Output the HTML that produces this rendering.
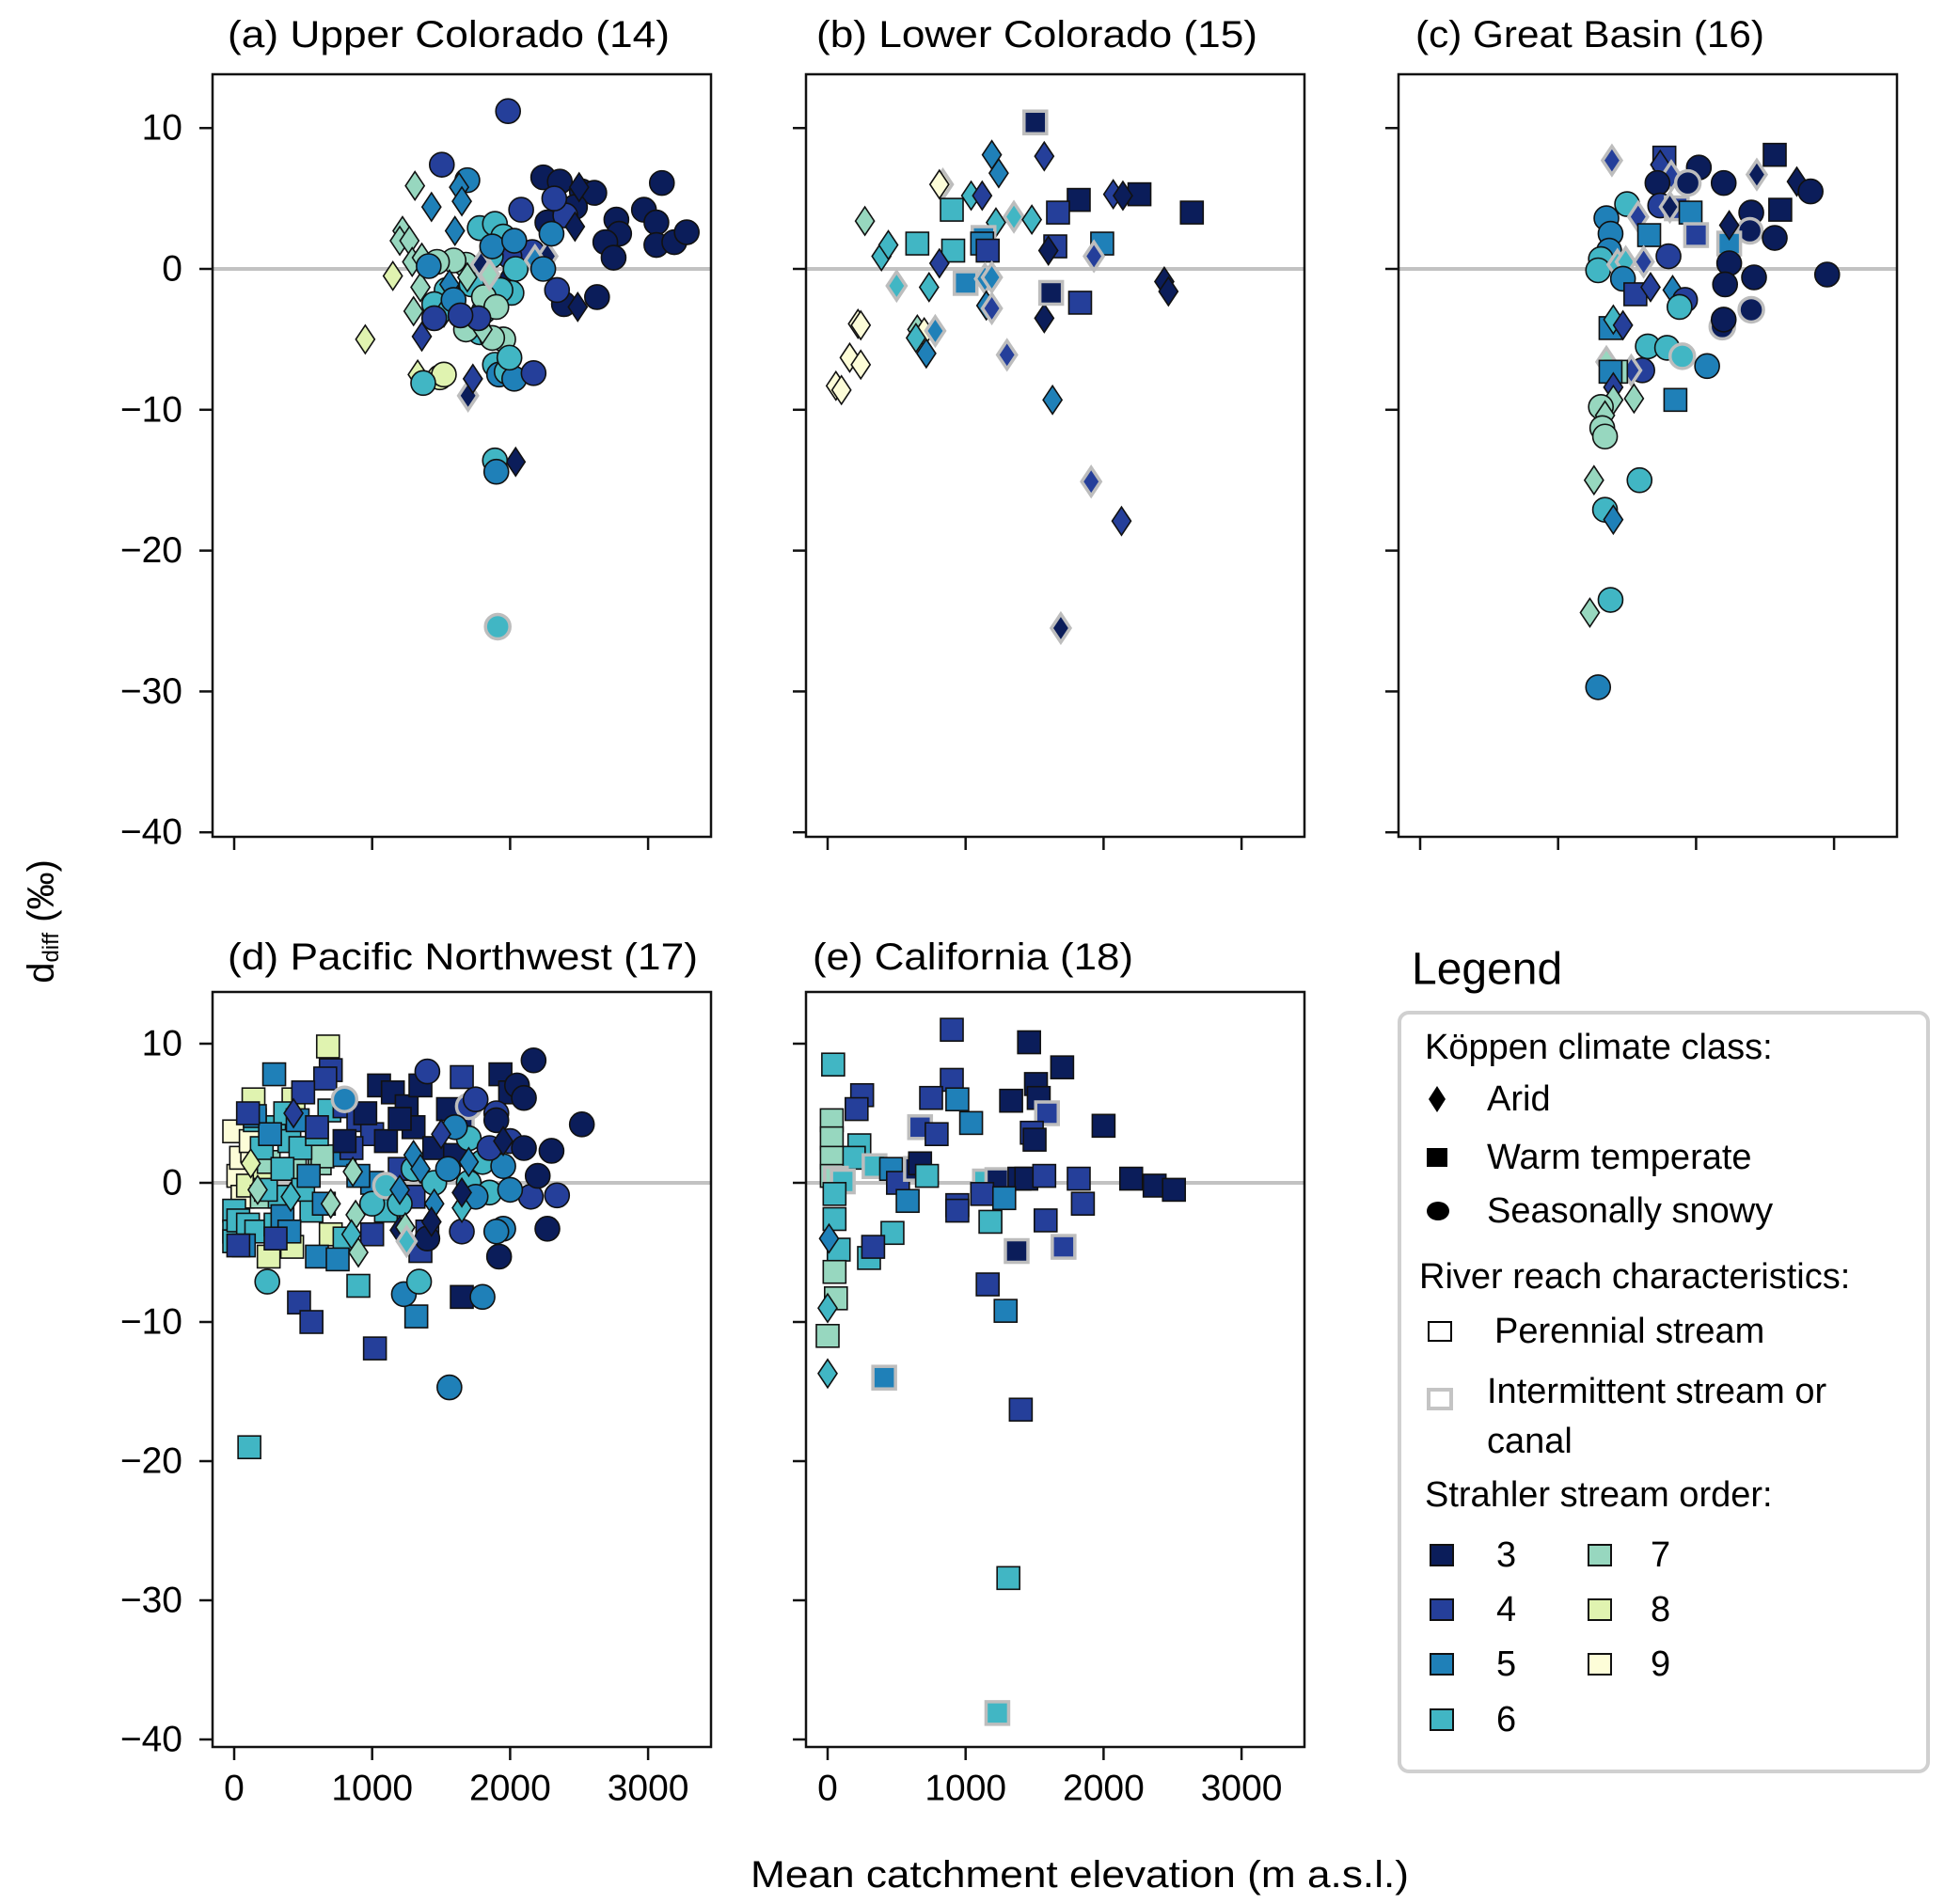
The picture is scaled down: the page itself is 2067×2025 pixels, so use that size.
<!DOCTYPE html>
<html><head><meta charset="utf-8"><style>
html,body{margin:0;padding:0;background:#fff;}
svg{display:block;font-family:"Liberation Sans",sans-serif;}
</style></head><body>
<svg id="fig" width="2067" height="2025" viewBox="0 0 2067 2025" xmlns="http://www.w3.org/2000/svg">
<g id="panels"></g>
<text transform="translate(44,980) rotate(-90)" text-anchor="middle" font-size="40" dominant-baseline="central">d<tspan font-size="24" dy="10">diff</tspan><tspan dy="-10"> (‰)</tspan></text>
<text x="1148" y="1994" text-anchor="middle" font-size="40" dominant-baseline="central" textLength="700" lengthAdjust="spacingAndGlyphs">Mean catchment elevation (m a.s.l.)</text>
<g transform="translate(-9,0)">
<text x="1510" y="1031" font-size="48" dominant-baseline="central">Legend</text>
<rect x="1497" y="1077" width="562" height="807" rx="10" fill="#fff" stroke="#d0d0d0" stroke-width="4"/>
<text x="1524" y="1114" font-size="38" dominant-baseline="central">Köppen climate class:</text>
<polygon points="1537,1155 1546,1169 1537,1183 1528,1169" fill="#000"/>
<text x="1590" y="1169" font-size="38" dominant-baseline="central">Arid</text>
<rect x="1526" y="1221" width="22" height="20" fill="#000"/>
<text x="1590" y="1231" font-size="38" dominant-baseline="central">Warm temperate</text>
<ellipse cx="1538" cy="1288" rx="12" ry="10" fill="#000"/>
<text x="1590" y="1288" font-size="38" dominant-baseline="central">Seasonally snowy</text>
<text x="1518" y="1358" font-size="38" dominant-baseline="central">River reach characteristics:</text>
<rect x="1528" y="1406" width="24" height="20" fill="#fff" stroke="#000" stroke-width="2"/>
<text x="1598" y="1416" font-size="38" dominant-baseline="central">Perennial stream</text>
<rect x="1528" y="1478" width="24" height="20" fill="#fff" stroke="#c4c4c4" stroke-width="4"/>
<text x="1590" y="1480" font-size="38" dominant-baseline="central">Intermittent stream or</text>
<text x="1590" y="1533" font-size="38" dominant-baseline="central">canal</text>
<text x="1524" y="1590" font-size="38" dominant-baseline="central">Strahler stream order:</text>
<g id="legend-orders"></g>
</g>
</svg>
<script>
const NS='http://www.w3.org/2000/svg';
const orderKeys=[3,4,5,6,7,8,9];
const orderColors=['#0b1d5a','#253f9a','#1f80b8','#41b6c4','#97d7bf','#e0f3b0','#fdfdd8'];
const yTicks=[10,0,-10,-20,-30,-40];
const yTickLabels=['10','0','\u221210','\u221220','\u221230','\u221240'];
const xTicks=[0,1000,2000,3000];
const xTickLabels=['0','1000','2000','3000'];

// Panel (a) Upper Colorado
const aElev=[1985,1505,2240,2360,2520,2610,2470,2270,2770,2790,2970,3100,3060,3060,3190,3280,2690,2750,2630,2390,2490,2400,2080,2320,2160,2340,1995,2500,2470,1995,2040,1695,1690,1630,1430,1780,1890,1950,1860,2040,2010,1930,1720,1540,1450,1810,1780,1890,1920,1975,2030,2170,1950,1995,1890,1900,1910,1680,1590,1470,1810,1900,1680,1870,1310,1220,1200,1270,1290,1360,1350,1300,1690,1800,950,1150,1330,1490,1520,1370,1360,1730,1650,1600,1560,1520,1790,1850,2270,2180,1410,1870,2030,2300,2240,1590,1770,1640,1450];
const aVal=[11.2,7.4,6.5,6.2,5.5,5.4,4.4,3.3,3.5,2.5,4.2,6.1,3.3,1.7,1.9,2.6,1.9,0.8,-2,-2.5,-2.7,3.8,4.2,5,1.2,-1.5,0.9,5.8,3,-0.5,-13.7,-9,6.3,5.8,4.4,2.9,3.2,2.3,0.9,0,-1.7,-1.5,-1.1,-1.5,-2.5,-3,-4.5,-6.8,-7.5,-7.3,-7.8,-7.4,-5,-6.3,-13.6,-14.4,-25.4,0.3,0.6,0.5,-2,-2.7,-4.3,-4.9,5.9,2.7,2,2,0.5,0.8,-1.3,-3,-0.6,-4.3,-5,-0.5,-7.5,-7.7,-7.5,-8.1,-4.8,-7.8,4.8,2.7,-1.1,-3.1,0.3,-0.4,0.9,0.6,0.2,1.6,2,2.5,0,-2.2,-3.5,-3.3,-3.5];
const aOrder=[4,4,3,3,3,3,3,3,3,3,3,3,3,3,3,3,3,3,3,3,3,4,4,4,4,4,4,3,3,3,3,3,5,5,5,6,6,6,6,6,6,6,6,6,6,6,6,6,5,6,5,4,7,6,6,5,6,7,7,7,7,7,7,7,7,7,7,7,7,7,7,7,7,7,8,8,8,8,8,6,4,4,5,5,5,6,3,7,3,5,5,5,5,5,5,5,4,4,4];
const aShape='ccccccccccccccccccccdccccccdddddcddcccccccccccccccccccccccccccccdddddddddddddcccddddddddddcccccccccc'.split('');
const aInter=[0,0,0,0,0,0,0,0,0,0,0,0,0,0,0,0,0,0,0,0,0,0,0,0,0,0,0,0,0,0,0,1,0,0,0,0,0,0,0,0,0,0,0,0,0,0,0,0,0,0,0,0,0,0,0,0,1,0,0,0,0,0,0,0,0,0,0,0,0,0,0,0,0,0,0,0,0,0,0,0,0,0,0,0,0,0,1,1,1,1,0,0,0,0,0,0,0,0,0];

// Panel (b) Lower Colorado
const bElev=[1505,1570,1190,1240,835,810,1040,1120,900,270,650,910,390,440,1220,1350,1480,1130,1120,1160,1820,1670,2260,2640,2070,2140,1650,1600,1990,1930,2440,2470,1570,1830,1620,500,735,810,1000,1140,1190,650,700,640,715,780,1150,1190,220,240,160,240,60,100,1300,1630,1910,2130,1690];
const bVal=[10.4,8,8.1,6.8,6,6,5.2,5.2,4.2,3.4,1.8,1.3,0.9,1.7,3.3,3.7,3.5,2.2,1.8,1.3,4.9,4,5.3,4,5.3,5.2,1.6,1.3,1.8,0.9,-0.9,-1.6,-3.5,-2.4,-1.7,-1.2,-1.3,0.4,-1,-0.7,-0.6,-4.3,-4.5,-4.9,-6,-4.4,-2.6,-2.8,-3.9,-4,-6.3,-6.8,-8.3,-8.6,-6.1,-9.3,-15.1,-17.9,-25.5];
const bOrder=[3,4,5,5,9,9,6,4,6,7,6,6,6,6,6,6,6,5,5,4,3,4,3,3,4,3,4,3,5,4,3,3,3,4,3,6,6,4,5,5,5,7,9,6,5,5,5,4,9,9,9,9,9,9,4,5,4,4,3];
const bShape='sdddddddsdssdddddsssssssddsdsddddssdddsddddddddddddddddddddd'.split('');
const bInter=[1,0,0,0,1,0,0,0,0,0,0,0,0,0,0,1,0,1,0,0,0,0,0,0,0,0,0,0,0,1,0,0,0,0,1,1,0,0,1,1,1,0,0,0,0,1,0,1,0,0,0,0,0,0,1,0,1,0,1];

// Panel (c) Great Basin
const cElev=[1390,1770,1740,1820,2020,1720,2200,1940,2570,2440,2730,2830,1740,1860,1810,2610,2400,1500,1580,1350,1380,1660,1960,2000,2390,2570,2240,2240,1370,1320,1310,1290,1430,1490,1620,1800,2240,2420,2950,2210,1470,1560,1670,1830,1920,1880,2400,1380,1400,1470,2190,2200,1650,1790,1900,2080,1610,1530,1350,1420,1380,1400,1400,1550,1310,1340,1320,1340,1850,1260,1590,1340,1400,1380,1230,1290];
const cVal=[7.7,7.9,7.4,6.6,7.2,6.1,6.1,6.1,8.1,6.7,6.2,5.5,4.5,4.3,4.4,4.2,4,4.6,3.7,3.6,2.5,2.4,4,2.4,2.7,2.2,1.8,3.1,1.3,0.4,0.7,-0.1,0.3,0.5,0.5,0.9,0.4,-0.6,-0.4,-1.1,-0.7,-1.8,-1.3,-1.5,-2.2,-2.7,-2.9,-4.2,-3.6,-4,-4.1,-3.6,-5.5,-5.6,-6.2,-6.9,-7.2,-7.2,-6.6,-7.3,-7.3,-8.4,-9.3,-9.2,-9.8,-10.4,-11.3,-11.9,-9.3,-15,-15,-17.1,-17.8,-23.5,-24.4,-29.7];
const cOrder=[4,4,4,4,3,3,3,3,3,3,3,3,4,4,3,3,3,6,4,5,5,5,5,4,3,3,5,3,5,6,6,6,6,6,4,4,3,3,3,3,5,4,4,5,4,6,3,5,6,4,3,3,6,6,6,5,4,4,7,7,5,4,7,7,7,7,7,7,5,7,6,6,5,6,7,5];
const cShape='dsddccccsddccsdsccdccsssccsdccccdddccccccsddcccsddcccccccddssdddcdccsdccdcdc'.split('');
const cInter=[1,0,0,1,0,0,0,1,0,1,0,0,0,1,1,0,0,0,1,0,0,0,0,1,1,0,1,0,0,0,0,0,1,1,1,0,0,0,0,0,0,0,0,0,0,0,1,0,0,0,1,0,0,0,1,0,0,1,1,0,0,0,0,0,0,0,0,0,0,0,0,0,0,0,0,0];

// Panel (d) Pacific Northwest
const dElev=[0,30,50,60,130,120,100,140,430,250,420,700,220,250,200,620,640,440,0,0,0,30,100,160,200,290,330,400,480,560,690,600,230,350,500,300,900,110,1100,800,150,370,290,70,150,260,350,460,600,750,1000,1320,540,800,650,400,900,700,660,470,560,1020,500,30,100,800,900,1000,1300,1350,1400,850,1000,1200,600,300,1050,1150,1250,1350,1650,1650,950,1100,1300,1450,800,1550,1600,1200,680,1650,1930,2000,1700,1900,2000,2100,2300,2520,2150,2340,2270,1920,1950,1800,1560,1230,1340,240,1650,1000,1100,1300,1450,1700,1800,1850,1950,2000,1700,1750,1550,800,1200,1900,1400,1850,2200,1600,2170,2050,2100,1400,1750,1900,1950,1500,1300,1350,1200,1450,1650,1700,1650,860,880,900,850,700,410,430,120,170,1200,1240,1430,1250];
const dVal=[3.7,0.5,1.8,-1,2.3,3,-0.2,6,6,-5.3,-4.6,-3.7,0.3,1.5,-1,1.4,1.9,1,-2,-3.5,-4.2,-2.7,-3,-3.5,2.5,4,-1,3,2.5,-2,5.2,3.5,-0.5,1,-0.5,-3,-7.4,-19,-2,-4,4.5,5,7.8,-4.5,4.8,3.5,-2.4,4.5,-5.3,-5.5,0,-9.6,0.5,2,-1.5,-3.5,0.5,8.1,7.5,-8.6,-10,-11.9,6.5,-4.5,5,5.5,4.5,3.5,-1,-4.9,-3.5,2.5,-3.7,1,4,-4,7,6.5,5.5,7,4.6,-8.2,5,3,4,2.5,3,5.3,2,4.6,9.8,7.6,7.8,6.5,5.5,5,3,2.5,2.3,4.2,-1,-0.9,-3.3,-5.3,-3.3,-8.2,-14.7,-8,-7.1,-7.1,-3.5,-1.5,-0.2,1,0,0,1.5,-0.7,1.2,-0.5,3.2,-1,1,6,-1.5,-3.5,-4,2.5,0.5,4,8.8,7,6.1,8,6,4.5,3,3.5,2,1,-0.5,-1.5,-1.8,1.5,-0.7,0.8,-2.3,-5,-3.7,-1.5,-1,5,1.4,-0.5,-3.4,-3.2,-2.8,-4.2];
const dOrder=[9,9,9,9,9,9,8,8,8,8,8,8,8,7,7,7,7,7,6,6,6,6,6,6,6,6,6,6,6,6,6,6,6,6,6,6,6,6,6,6,6,6,5,5,5,5,5,5,5,5,5,5,5,5,5,5,5,4,4,4,4,4,4,4,4,4,4,4,4,4,4,4,4,4,4,4,3,3,3,3,3,3,3,3,3,3,3,3,3,3,8,4,3,3,4,4,4,3,3,3,4,4,3,3,5,5,5,5,6,6,4,6,6,6,6,6,6,6,5,5,6,5,5,5,6,5,3,4,3,5,3,3,3,4,4,3,3,4,5,5,5,5,6,5,3,7,7,7,6,7,6,4,8,7,3,7,3,6];
const dShape=('ssssssssssssssssssssssssssssssssssssssssssssssssssssssssssssssssssssssssssssssssssssssssssssss'+'cccccccccccccccccccccccccccccccccccccccccc'+'dddddddddddddddddddddddddddd').split('');
const dInter=[0,0,0,0,0,0,0,0,0,0,0,0,0,0,0,0,0,0,0,0,0,0,0,0,0,0,0,0,0,0,0,0,0,0,0,0,0,0,0,0,0,0,0,0,0,0,0,0,0,0,0,0,0,0,0,0,0,0,0,0,0,0,0,0,0,0,0,0,0,0,0,0,0,0,0,0,0,0,0,0,1,0,0,0,0,0,0,0,0,0,0,0,0,0,1,0,0,0,0,0,0,0,0,0,0,0,0,0,0,0,0,0,1,0,0,0,0,0,0,0,0,0,0,1,0,0,0,0,0,0,0,0,0,0,0,0,0,0,0,0,0,0,0,0,0,0,0,0,0,0,0,0,0,0,0,0,0,1,1,1,0];

// Panel (e) California
const eElev=[40,900,1460,1700,1510,1530,1590,2000,1330,900,750,940,1040,250,210,670,790,1480,1500,30,30,230,190,30,30,60,110,340,460,510,640,670,720,1140,1230,1390,1440,1570,2200,2370,2510,940,1120,1280,1180,940,1580,1850,1820,1370,1710,1160,1290,580,470,50,50,80,50,60,0,300,330,10,0,0,410,1400,1310,1230];
const eVal=[8.5,11,10.1,8.3,7.1,6.1,5,4.1,5.9,7.4,6.1,6,4.3,6.3,5.3,4,3.5,3.6,3.1,4.5,3.2,2.7,1.8,1.8,0.5,0.3,0.1,1.2,1,0,1,1.4,0.5,0.1,0.2,0.3,0.3,0.5,0.3,-0.2,-0.5,-1.6,-0.8,-1.1,-2.8,-2,-2.7,-1.5,0.3,-4.9,-4.6,-7.3,-9.2,-1.3,-3.6,-0.8,-2.6,-4.8,-6.4,-8.3,-11,-5.4,-4.6,-4,-9,-13.7,-14,-16.3,-28.4,-38.1];
const eOrder=[6,4,3,3,3,3,4,3,3,4,4,5,5,4,4,4,4,4,3,7,7,6,6,7,7,7,6,6,5,4,3,3,6,6,3,3,3,4,3,3,3,4,4,5,6,4,4,4,4,3,4,4,5,5,6,6,6,6,7,7,7,6,4,5,6,6,5,4,6,6];
const eShape='sssssssssssssssssssssssssssssssssssssssssssssssssssssssssssssssdddssss'.split('');
const eInter=[0,0,0,0,0,0,1,0,0,0,0,0,0,0,0,1,0,0,0,0,0,0,0,0,0,1,1,1,0,0,1,0,0,1,1,0,0,0,0,0,0,0,0,0,0,0,0,0,0,1,1,0,0,0,0,0,0,0,0,0,0,0,0,0,0,0,1,0,0,1];

const panels=[
 {key:'a',title:'(a) Upper Colorado (14)',tx:242,ty:37,tw:470,left:226,top:79,bottom:890,y0:286,k:14.98,ylab:true,xlab:false,elev:aElev,val:aVal,ord:aOrder,shp:aShape,intr:aInter},
 {key:'b',title:'(b) Lower Colorado (15)',tx:868,ty:37,tw:469,left:857,top:79,bottom:890,y0:286,k:14.98,ylab:false,xlab:false,elev:bElev,val:bVal,ord:bOrder,shp:bShape,intr:bInter},
 {key:'c',title:'(c) Great Basin (16)',tx:1505,ty:37,tw:371,left:1487,top:79,bottom:890,y0:286,k:14.98,ylab:false,xlab:false,elev:cElev,val:cVal,ord:cOrder,shp:cShape,intr:cInter},
 {key:'d',title:'(d) Pacific Northwest (17)',tx:242,ty:1018,tw:500,left:226,top:1055,bottom:1858,y0:1258,k:14.8,ylab:true,xlab:true,elev:dElev,val:dVal,ord:dOrder,shp:dShape,intr:dInter},
 {key:'e',title:'(e) California (18)',tx:864,ty:1018,tw:341,left:857,top:1055,bottom:1858,y0:1258,k:14.8,ylab:false,xlab:true,elev:eElev,val:eVal,ord:eOrder,shp:eShape,intr:eInter}
];
const PW=530, XK=0.1467, XOFF=23;
function mk(tag,attrs,parent){const e=document.createElementNS(NS,tag);for(const k in attrs)e.setAttribute(k,attrs[k]);parent.appendChild(e);return e;}
function colorOf(o){return orderColors[orderKeys.indexOf(o)];}
const root=document.getElementById('panels');
panels.forEach(p=>{
  const xs=v=>p.left+XOFF+v*XK;
  const ys=v=>p.y0-v*p.k;
  const g=mk('g',{},root);
  
  
  const t=mk('text',{x:p.tx,y:p.ty,'font-size':40,'dominant-baseline':'central',textLength:p.tw,lengthAdjust:'spacingAndGlyphs'},g);
  t.textContent=p.title;
  
  
  const cp=mk('clipPath',{id:'clip'+p.key},g);
  mk('rect',{x:p.left,y:p.top,width:PW,height:p.bottom-p.top},cp);
  const zl=mk('line',{x1:p.left,x2:p.left+PW,y1:ys(0),y2:ys(0),stroke:'#c2c2c2','stroke-width':4},g);
  
  
  const pts=mk('g',{'clip-path':'url(#clip'+p.key+')'},g);
  
  
  for(let i=0;i<p.elev.length;i++){
    const cx=xs(p.elev[i]), cy=ys(p.val[i]);
    const fill=colorOf(p.ord[i]);
    const inter=p.intr[i]===1;
    const st=inter?'#bdbdbd':'#111';
    const sw=inter?3.5:1.6;
    let m;
    if(p.shp[i]==='c'){m=mk('circle',{cx:cx,cy:cy,r:13,fill:fill,stroke:st,'stroke-width':sw},pts);}
    else if(p.shp[i]==='s'){m=mk('rect',{x:cx-12,y:cy-12,width:24,height:24,fill:fill,stroke:st,'stroke-width':sw},pts);}
    else {m=mk('polygon',{points:`${cx},${cy-15} ${cx+10},${cy} ${cx},${cy+15} ${cx-10},${cy}`,fill:fill,stroke:st,'stroke-width':sw},pts);}
    
    
  }
  const fr=mk('rect',{x:p.left,y:p.top,width:PW,height:p.bottom-p.top,fill:'none',stroke:'#111','stroke-width':2.5},g);
  
  
  yTicks.forEach((v,j)=>{
    const tk=mk('line',{x1:p.left-14,x2:p.left,y1:ys(v),y2:ys(v),stroke:'#111','stroke-width':2.5},g);
    
    
    if(p.ylab){
      const tl=mk('text',{x:p.left-32,y:ys(v),'font-size':39,'text-anchor':'end','dominant-baseline':'central'},g);
      tl.textContent=yTickLabels[j];
      
      
    }
  });
  xTicks.forEach((v,j)=>{
    const tk=mk('line',{x1:xs(v),x2:xs(v),y1:p.bottom,y2:p.bottom+14,stroke:'#111','stroke-width':2.5},g);
    
    
    if(p.xlab){
      const tl=mk('text',{x:xs(v),y:p.bottom+44,'font-size':39,'text-anchor':'middle','dominant-baseline':'central'},g);
      tl.textContent=xTickLabels[j];
      
      
    }
  });
});
// legend orders
const lg=document.getElementById('legend-orders');
const legCol=[[1530,1600],[1698,1764]];
const legRowY=[1654,1712,1770,1829];
orderKeys.forEach((o,j)=>{
  const col=j<4?0:1, row=j<4?j:j-4;
  const y=legRowY[row];
  const r=mk('rect',{x:legCol[col][0],y:y-11,width:24,height:22,fill:orderColors[j],stroke:'#111','stroke-width':2},lg);
  
  
  const t=mk('text',{x:legCol[col][1],y:y,'font-size':38,'dominant-baseline':'central'},lg);
  t.textContent=String(o);
  
  
});
</script>
</body></html>
